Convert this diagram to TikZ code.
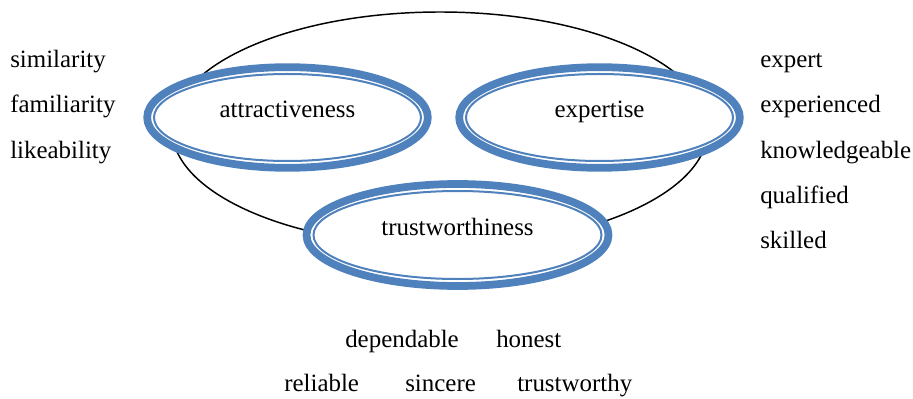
\documentclass[tikz,border=0pt]{standalone}
\usepackage{fontspec}
\setmainfont{Liberation Serif}
\usetikzlibrary{shapes.geometric}
\definecolor{ringblue}{HTML}{4F81BD}

\begin{document}
\begin{tikzpicture}[x=0.75pt,y=-0.75pt,
		ring/.style={draw=ringblue,line width=5.8pt,fill=white,ellipse,inner sep=0pt},
		inring/.style={draw=ringblue,line width=1.5pt},
		word/.style={inner sep=0pt,font=\fontsize{18.7}{22}\selectfont},
		left word/.style={word,anchor=base west}]
		\useasboundingbox (0,0) rectangle (913,399);
		
		% outer frame behind the three rings
		\node[draw,ellipse,line width=1.1pt,minimum width=402pt,minimum height=175.5pt,inner sep=0pt] (all) at (440,129) {};
		
		\node[ring,minimum width=210.5pt,minimum height=75.5pt] (attr) at (287.5,117.5) {};
		\node[ring,minimum width=210.5pt,minimum height=75.5pt] (expt) at (599.5,117.5) {};
		\node[ring,minimum width=226.5pt,minimum height=76.5pt] (trust) at (457.5,235) {};
		
		\draw[inring] (attr.center) ellipse [x radius=133.5,y radius=43.5];
		\draw[inring] (expt.center) ellipse [x radius=133.5,y radius=43.5];
		\draw[inring] (trust.center) ellipse [x radius=144,y radius=44];
		
		\node[word,anchor=base] (attrtxt) at (attr.center) {attractiveness};
		\node[word,anchor=base] (expttxt) at (expt.center) {expertise};
		\node[word,anchor=base] (trusttxt) at (trust.center) {trustworthiness};
		
		% attractiveness
		\node[left word] (sim) at (10,68) {similarity};
		\node[left word] (fam) at (10,113) {familiarity};
		\node[left word] (lik) at (10,158) {likeability};
		
		% expertise
		\node[left word] (ex1) at (760,68) {expert};
		\node[left word] (ex2) at (760,113) {experienced};
		\node[left word] (ex3) at (760,158) {knowledgeable};
		\node[left word] (ex4) at (760,203) {qualified};
		\node[left word] (ex5) at (760,248) {skilled};
		
		% trustworthiness
		\node[left word] (dep) at (345,347) {dependable};
		\node[left word] (hon) at (496,347) {honest};
		\node[left word] (rel) at (284,391) {reliable};
		\node[left word] (sin) at (405,391) {sincere};
		\node[left word] (trw) at (517,391) {trustworthy};
	\end{tikzpicture}
\end{document}
